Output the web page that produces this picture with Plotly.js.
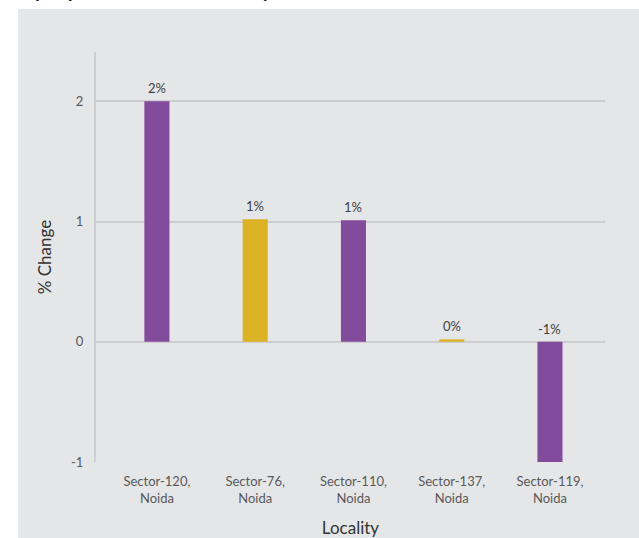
<!DOCTYPE html>
<html>
<head>
<meta charset="utf-8">
<script src="https://cdn.plot.ly/plotly-3.0.1.min.js"></script>
<style>html,body{margin:0;padding:0;background:#fff;}#chart{width:639px;height:538px;}</style>
</head>
<body>
<div id="chart"></div>
<script>
const localities = ["Sector-120,<br>Noida", "Sector-76,<br>Noida", "Sector-110,<br>Noida", "Sector-137,<br>Noida", "Sector-119,<br>Noida"];
const changes = [2.0, 1.02, 1.01, 0.02, -1.0];
const labels = ["2%", "1%", "1%", "0%", "-1%"];
const barColors = ["#834b9b", "#dbb224", "#834b9b", "#dbb224", "#834b9b"];
const yTicks = [-1, 0, 1, 2];
const chartTitle = "Top 5 price movers in locality";

const FONT = "Lato, 'Open Sans', sans-serif";

const trace = {
  type: "bar",
  x: localities,
  y: changes,
  marker: {color: barColors},
  width: 0.255,
  hoverinfo: "none"
};

const annotations = localities.map((c, i) => ({
  x: c, y: Math.max(changes[i], 0), xref: "x", yref: "y",
  text: labels[i], showarrow: false, yanchor: "bottom", yshift: 3,
  font: {family: FONT, size: 13, color: "#404040"}
}));
annotations.push({
  xref: "paper", yref: "paper", x: -0.165, y: 1.1268, xanchor: "left", yanchor: "bottom",
  yshift: -3, text: "<b>" + chartTitle + "</b>", showarrow: false,
  font: {family: FONT, size: 20, color: "#222"}
});

const layout = {
  width: 639, height: 538,
  margin: {l: 96, r: 34, t: 52, b: 76},
  paper_bgcolor: "#ffffff",
  plot_bgcolor: "rgba(0,0,0,0)",
  showlegend: false,
  font: {family: FONT, color: "#595959"},
  shapes: [{
    type: "rect", xref: "paper", yref: "paper", layer: "below",
    x0: -0.153, x1: 1.08, y0: -0.25, y1: 1.105,
    fillcolor: "#e5e6e8", line: {width: 0}
  }],
  xaxis: {
    type: "category",
    range: [-0.62, 4.56],
    showgrid: false, zeroline: false, showline: false,
    tickfont: {family: FONT, size: 13, color: "#595959"},
    ticks: "", ticklabelstandoff: 10, automargin: false,
    title: {text: "Locality", font: {family: FONT, size: 17, color: "#333"}, standoff: 18}
  },
  yaxis: {
    range: [-1, 2.41],
    tickvals: yTicks, ticktext: yTicks.map(String),
    showgrid: true, gridcolor: "#cdcdcf", gridwidth: 2,
    zeroline: true, zerolinecolor: "#cdcdcf", zerolinewidth: 2,
    showline: true, linecolor: "#cfcfd1", linewidth: 2,
    ticks: "", ticklabelstandoff: 8, automargin: false,
    tickfont: {family: FONT, size: 13, color: "#595959"},
    title: {text: "% Change", font: {family: FONT, size: 17, color: "#333"}, standoff: 15}
  },
  annotations: annotations
};

Plotly.newPlot("chart", [trace], layout, {displayModeBar: false, staticPlot: true});
</script>
</body>
</html>
